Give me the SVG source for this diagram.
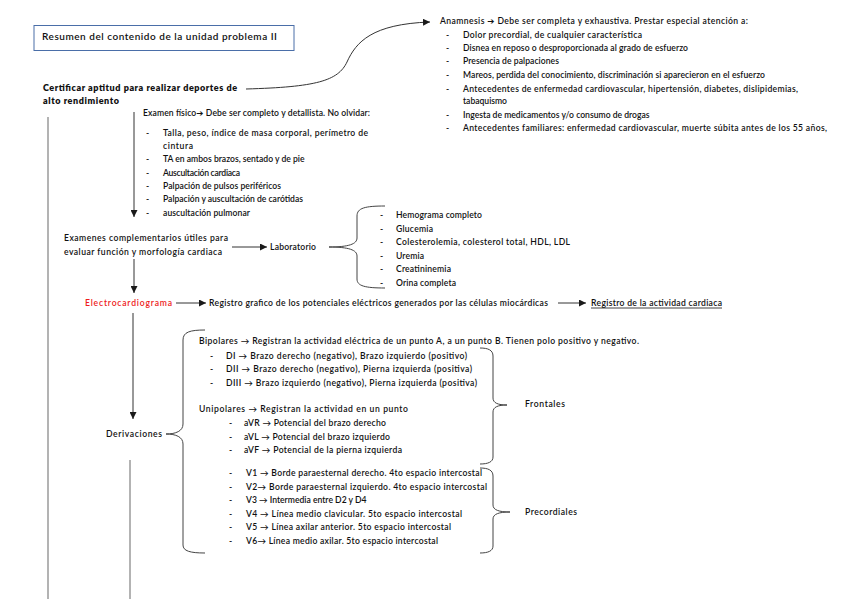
<svg xmlns="http://www.w3.org/2000/svg" width="848" height="599" viewBox="0 0 848 599">
<defs>
<marker id="ah" markerWidth="7" markerHeight="7" refX="7" refY="3.5" orient="auto" markerUnits="userSpaceOnUse">
<path d="M0,0 L7,3.5 L0,7 z" fill="#1a1a1a"/>
</marker>
</defs>
<style>
text{font-family:Lato,"Liberation Sans","DejaVu Sans",sans-serif;font-size:8.6px;fill:#111;font-weight:600}
.b{font-weight:800;font-size:9px}
.t{font-size:10px;font-weight:600}
.red{fill:#ee1c1c;font-weight:600;font-size:8.6px}
.ln{fill:none;stroke:#333;stroke-width:1}
.gr{fill:none;stroke:#9a9a9a;stroke-width:1.5}
.br{fill:none;stroke:#444;stroke-width:1}
</style>
<rect width="848" height="599" fill="#fff"/>

<g id="titulo">
<rect x="34" y="25.5" width="260" height="25" fill="none" stroke="#4a6ea8" stroke-width="1"/>
<text class="t" x="42" y="40" textLength="235" lengthAdjust="spacing">Resumen del contenido de la unidad problema II</text>
</g>

<g id="certificar">
<text class="b" x="43" y="91" textLength="194" lengthAdjust="spacing">Certificar aptitud para realizar deportes de</text>
<text class="b" x="43" y="104" textLength="76" lengthAdjust="spacing">alto rendimiento</text>
</g>

<g id="anamnesis">
<text x="440" y="24" textLength="308" lengthAdjust="spacing">Anamnesis ➔ Debe ser completa y exhaustiva. Prestar especial atención a:</text>
<text x="446" y="38">-</text><text x="463" y="38" textLength="179" lengthAdjust="spacing">Dolor precordial, de cualquier característica</text>
<text x="446" y="51">-</text><text x="463" y="51" textLength="225" lengthAdjust="spacing">Disnea en reposo o desproporcionada al grado de esfuerzo</text>
<text x="446" y="64">-</text><text x="463" y="64" textLength="96" lengthAdjust="spacing">Presencia de palpaciones</text>
<text x="446" y="78">-</text><text x="463" y="78" textLength="302" lengthAdjust="spacing">Mareos, perdida del conocimiento, discriminación si aparecieron en el esfuerzo</text>
<text x="446" y="92">-</text><text x="463" y="92" textLength="335" lengthAdjust="spacing">Antecedentes de enfermedad cardiovascular, hipertensión, diabetes, dislipidemias,</text>
<text x="463" y="104" textLength="44" lengthAdjust="spacing">tabaquismo</text>
<text x="446" y="118">-</text><text x="463" y="118">Ingesta de medicamentos y/o consumo de drogas</text>
<text x="446" y="131">-</text><text x="463" y="131" textLength="364" lengthAdjust="spacing">Antecedentes familiares: enfermedad cardiovascular, muerte súbita antes de los 55 años,</text>
</g>

<g id="examen-fisico">
<text x="143" y="116" textLength="227" lengthAdjust="spacing">Examen físico➔ Debe ser completo y detallista. No olvidar:</text>
<text x="146" y="136">-</text><text x="163" y="136" textLength="205" lengthAdjust="spacing">Talla, peso, índice de masa corporal, perímetro de</text>
<text x="163" y="149" textLength="30" lengthAdjust="spacing">cintura</text>
<text x="146" y="162">-</text><text x="163" y="162">TA en ambos brazos, sentado y de pie</text>
<text x="146" y="176">-</text><text x="163" y="176" textLength="77" lengthAdjust="spacing">Auscultación cardiaca</text>
<text x="146" y="189">-</text><text x="163" y="189" textLength="118" lengthAdjust="spacing">Palpación de pulsos periféricos</text>
<text x="146" y="202">-</text><text x="163" y="202" textLength="140" lengthAdjust="spacing">Palpación y auscultación de carótidas</text>
<text x="146" y="216">-</text><text x="163" y="216" textLength="87" lengthAdjust="spacing">auscultación pulmonar</text>
</g>

<g id="examenes-complementarios">
<text x="64" y="241" textLength="164" lengthAdjust="spacing">Examenes complementarios útiles para</text>
<text x="64" y="255" textLength="158" lengthAdjust="spacing">evaluar función y morfología cardiaca</text>
</g>

<g id="laboratorio">
<text x="270" y="250" textLength="46" lengthAdjust="spacing">Laboratorio</text>
</g>

<g id="lista-laboratorio">
<text x="380" y="218">-</text><text x="396" y="218" textLength="86" lengthAdjust="spacing">Hemograma completo</text>
<text x="380" y="232">-</text><text x="396" y="232" textLength="37" lengthAdjust="spacing">Glucemia</text>
<text x="380" y="245">-</text><text x="396" y="245" textLength="174" lengthAdjust="spacing">Colesterolemia, colesterol total, HDL, LDL</text>
<text x="380" y="259">-</text><text x="396" y="259" textLength="28" lengthAdjust="spacing">Uremia</text>
<text x="380" y="272">-</text><text x="396" y="272" textLength="55" lengthAdjust="spacing">Creatininemia</text>
<text x="380" y="286">-</text><text x="396" y="286" textLength="60" lengthAdjust="spacing">Orina completa</text>
</g>

<g id="electrocardiograma">
<text class="red" x="85" y="306" textLength="87" lengthAdjust="spacing">Electrocardiograma</text>
</g>

<g id="registro-grafico">
<text x="209" y="306" textLength="339" lengthAdjust="spacing">Registro grafico de los potenciales eléctricos generados por las células miocárdicas</text>
</g>

<g id="registro-actividad">
<text x="591" y="306" textLength="131" lengthAdjust="spacing">Registro de la actividad cardiaca</text>
<line x1="591" y1="308" x2="722" y2="308" stroke="#111" stroke-width="0.8"/>
</g>

<g id="derivaciones">
<text x="106" y="437" textLength="56" lengthAdjust="spacing">Derivaciones</text>
</g>

<g id="bipolares">
<text x="199" y="344" textLength="440" lengthAdjust="spacing">Bipolares → Registran la actividad eléctrica de un punto A, a un punto B. Tienen polo positivo y negativo.</text>
<text x="210" y="359">-</text><text x="226" y="359" textLength="241" lengthAdjust="spacing">DI → Brazo derecho (negativo), Brazo izquierdo (positivo)</text>
<text x="210" y="372">-</text><text x="226" y="372" textLength="246" lengthAdjust="spacing">DII → Brazo derecho (negativo), Pierna izquierda (positiva)</text>
<text x="210" y="386">-</text><text x="226" y="386" textLength="251" lengthAdjust="spacing">DIII → Brazo izquierdo (negativo), Pierna izquierda (positiva)</text>
</g>

<g id="unipolares">
<text x="199" y="412" textLength="209" lengthAdjust="spacing">Unipolares → Registran la actividad en un punto</text>
<text x="229" y="426">-</text><text x="244" y="426" textLength="142" lengthAdjust="spacing">aVR → Potencial del brazo derecho</text>
<text x="229" y="440">-</text><text x="244" y="440" textLength="146" lengthAdjust="spacing">aVL → Potencial del brazo izquierdo</text>
<text x="229" y="453">-</text><text x="244" y="453" textLength="158" lengthAdjust="spacing">aVF → Potencial de la pierna izquierda</text>
</g>

<g id="precordiales-lista">
<text x="229" y="476">-</text><text x="246" y="476" textLength="236" lengthAdjust="spacing">V1 → Borde paraesternal derecho. 4to espacio intercostal</text>
<text x="229" y="490">-</text><text x="246" y="490" textLength="241" lengthAdjust="spacing">V2→ Borde paraesternal izquierdo. 4to espacio intercostal</text>
<text x="229" y="503">-</text><text x="246" y="503">V3 → Intermedia entre D2 y D4</text>
<text x="229" y="517">-</text><text x="246" y="517" textLength="216" lengthAdjust="spacing">V4 → Línea medio clavicular. 5to espacio intercostal</text>
<text x="229" y="530">-</text><text x="246" y="530" textLength="205" lengthAdjust="spacing">V5 → Línea axilar anterior. 5to espacio intercostal</text>
<text x="229" y="544">-</text><text x="246" y="544" textLength="192" lengthAdjust="spacing">V6→ Línea medio axilar. 5to espacio intercostal</text>
</g>

<g id="frontales">
<text x="525" y="407" textLength="40" lengthAdjust="spacing">Frontales</text>
</g>

<g id="precordiales">
<text x="525" y="515" textLength="52" lengthAdjust="spacing">Precordiales</text>
</g>

<g id="connectors">
<path class="ln" d="M246,89 C316,87 338,81 347,62 C356,42 372,24 430,22" marker-end="url(#ah)"/>
<line class="gr" x1="48" y1="117" x2="48" y2="599"/>
<line class="ln" x1="134" y1="112" x2="134" y2="217" marker-end="url(#ah)"/>
<line class="ln" x1="232" y1="247" x2="267" y2="247" marker-end="url(#ah)"/>
<line class="ln" x1="134" y1="259" x2="134" y2="293" marker-end="url(#ah)"/>
<line class="ln" x1="176" y1="303" x2="206" y2="303" marker-end="url(#ah)"/>
<line class="ln" x1="558" y1="303" x2="586" y2="303" marker-end="url(#ah)"/>
<line class="ln" x1="133" y1="313" x2="133" y2="419" marker-end="url(#ah)"/>
<line class="gr" x1="130" y1="460" x2="130" y2="599"/>
<path class="br" d="M385,206 C365,206 357,208 357,216 L357,238 C357,244 349,247 329,247 C349,247 357,250 357,256 L357,279 C357,286 365,288 385,288"/>
<path class="br" d="M205,330 C190,330 183,332 183,340 L183,424 C183,431 176,434 166,434 C176,434 183,437 183,444 L183,545 C183,551 190,553 205,553"/>
<path class="br" d="M480,348 C488,348 493,350 493,356 L493,398 C493,403 498,405 507,405 C498,405 493,407 493,412 L493,457 C493,462 488,464 480,464"/>
<path class="br" d="M480,468 C488,468 493,470 493,476 L493,505 C493,510 499,512 510,512 C499,512 493,514 493,519 L493,546 C493,551 488,553 480,553"/>
</g>
</svg>
